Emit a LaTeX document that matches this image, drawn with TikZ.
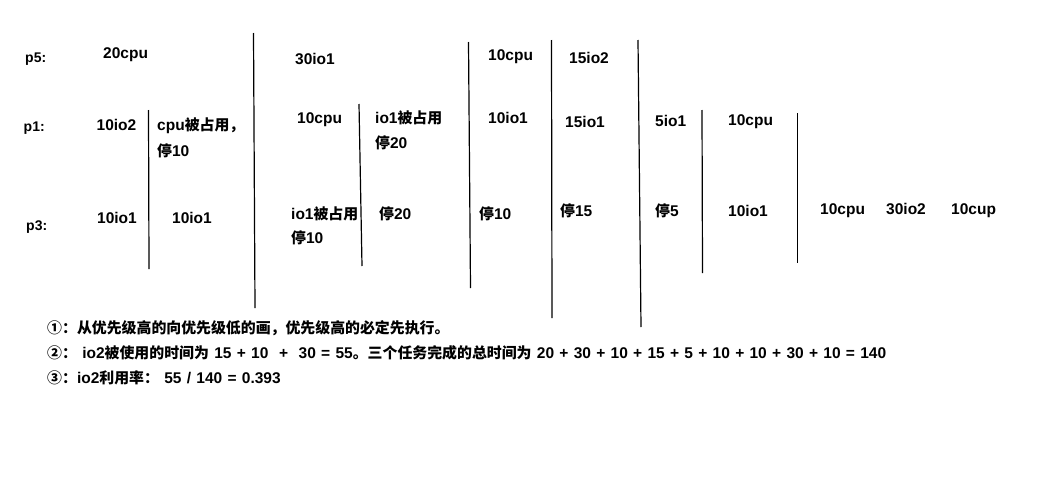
\documentclass[tikz,border=0pt]{standalone}
\usepackage{fontspec}
\setmainfont{Liberation Sans}
\newfontfamily\cjk{Noto Sans CJK SC}
\newcommand\C[1]{{\cjk\fontsize{14.9}{18}\selectfont\bfseries #1}}
\newcommand\wsp{\spaceskip=5.3pt\relax}
\begin{document}
\begin{tikzpicture}[x=1pt,y=-1pt,
  txt/.style={anchor=base west,inner sep=0pt,font={\fontsize{15.5}{18}\selectfont\bfseries},execute at begin node={\wsp}},
  lbl/.style={anchor=base west,inner sep=0pt,font={\fontsize{14}{16}\selectfont\bfseries}},
  sep/.style={draw=black,line width=1.2pt}]
\useasboundingbox (0,0) rectangle (1060,479);
% process labels
\node[lbl] (p5) at (25,62.7) {p5:};
\node[lbl] (p1) at (23.5,131.7) {p1:};
\node[lbl] (p3) at (26,230) {p3:};
% p5 row
\node[txt] (a1) at (103,58.3) {20cpu};
\node[txt] (a2) at (295,64.6) {30io1};
\node[txt] (a3) at (488,60.3) {10cpu};
\node[txt] (a4) at (569,63) {15io2};
% p1 row
\node[txt] (b1) at (96.5,130.7) {10io2};
\node[txt] (b2a) at (157,130.7) {cpu\C{被占用，}};
\node[txt] (b2b) at (157,156) {\C{停}10};
\node[txt] (b3) at (297,123) {10cpu};
\node[txt] (b4a) at (375,123) {io1\C{被占用}};
\node[txt] (b4b) at (375,148) {\C{停}20};
\node[txt] (b5) at (488,123) {10io1};
\node[txt] (b6) at (565,127.3) {15io1};
\node[txt] (b7) at (655,126.3) {5io1};
\node[txt] (b8) at (728,125.3) {10cpu};
% p3 row
\node[txt] (c1) at (97,223.3) {10io1};
\node[txt] (c2) at (172,223.3) {10io1};
\node[txt] (c3a) at (291,219.6) {io1\C{被占用}};
\node[txt] (c3b) at (291,243.6) {\C{停}10};
\node[txt] (c4) at (379,219.6) {\C{停}20};
\node[txt] (c5) at (479,219.6) {\C{停}10};
\node[txt] (c6) at (560,216.3) {\C{停}15};
\node[txt] (c7) at (655,216.3) {\C{停}5};
\node[txt] (c8) at (728,216.3) {10io1};
\node[txt] (c9) at (820,214) {10cpu};
\node[txt] (c10) at (886,214) {30io2};
\node[txt] (c11) at (951,214) {10cup};
% separators
\draw[sep] (148.5,110) -- (149,269);
\draw[sep] (253.5,33) -- (255,308);
\draw[sep] (359,104) -- (362,266);
\draw[sep] (468.5,42) -- (470.5,288);
\draw[sep] (551.5,40) -- (552,318);
\draw[sep] (638,40) -- (641,327);
\draw[sep] (702,110) -- (702.5,273);
\draw[sep] (797.4,113) -- (797.4,263);
% notes
\node[txt] (n1) at (47,333) {\C{①：从优先级高的向优先级低的画，优先级高的必定先执行。}};
\node[txt] (n2) at (47,358) {\C{②：} io2\C{被使用的时间为} 15 + 10 \ + \ 30 = 55\C{。三个任务完成的总时间为} 20 + 30 + 10 + 15 + 5 + 10 + 10 + 30 + 10 = 140};
\node[txt] (n3) at (47,383) {\C{③：}io2\C{利用率：} 55 / 140 = 0.393};
\end{tikzpicture}
\end{document}
